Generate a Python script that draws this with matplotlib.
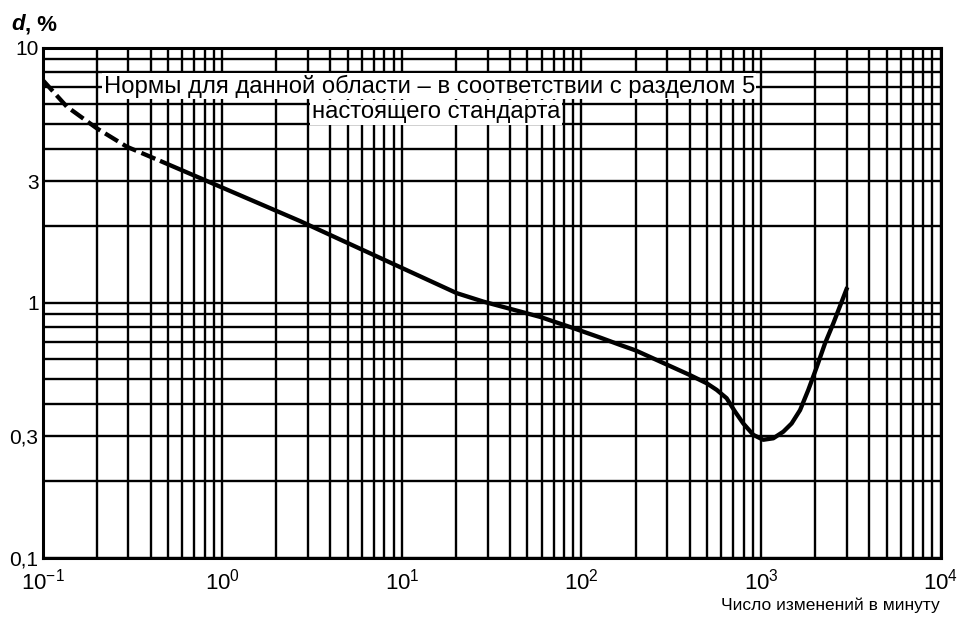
import numpy as np
import matplotlib.pyplot as plt
from matplotlib.ticker import LogLocator, NullFormatter, FixedLocator, FixedFormatter

plt.rcParams['font.family'] = ['Liberation Sans', 'DejaVu Sans']

# dashed part of the curve (outside the normalised range)
x_dash = [0.1, 0.136, 0.2, 0.294, 0.45]
y_dash = [7.47, 5.88, 4.83, 4.09, 3.6]

# solid part of the curve
x_solid = [0.45, 0.93, 2.71, 4.52, 9.75, 20.2, 28.4, 58.7, 90, 127, 164,
           200, 402, 498, 566, 643, 716, 796, 906, 1028, 1170, 1330, 1479,
           1648, 1832, 2042, 2270, 2525, 3020]
y_solid = [3.6, 2.89, 2.09, 1.77, 1.38, 1.09, 1.01, 0.88, 0.795, 0.73, 0.683,
           0.65, 0.52, 0.483, 0.455, 0.422, 0.374, 0.336, 0.303, 0.29, 0.294,
           0.312, 0.336, 0.379, 0.455, 0.56, 0.693, 0.83, 1.15]

y_ticks = [0.1, 0.3, 1, 3, 10]
y_tick_labels = ['0,1', '0,3', '1', '3', '10']

note_line1 = 'Нормы для данной области – в соответствии с разделом 5'
note_line2 = 'настоящего стандарта'

fig = plt.figure(figsize=(9.66, 6.18), dpi=100)
ax = fig.add_axes([0.0442, 0.0976, 0.9296, 0.8252])

ax.set_xscale('log')
ax.set_yscale('log')
ax.set_xlim(0.1, 1e4)
ax.set_ylim(0.1, 10)

# grid on every 1..9 of each decade
ax.xaxis.set_major_locator(LogLocator(base=10, numticks=10))
ax.xaxis.set_minor_locator(LogLocator(base=10, subs=np.arange(2, 10), numticks=20))
ax.xaxis.set_minor_formatter(NullFormatter())
ax.yaxis.set_major_locator(FixedLocator(y_ticks))
ax.yaxis.set_major_formatter(FixedFormatter(y_tick_labels))
ax.yaxis.set_minor_locator(LogLocator(base=10, subs=np.arange(1, 10), numticks=20))
ax.yaxis.set_minor_formatter(NullFormatter())

ax.grid(True, which='both', axis='both', color='black', lw=1.7)
ax.tick_params(which='both', length=0)
ax.tick_params(axis='x', pad=8, labelsize=16)
ax.tick_params(axis='y', pad=3, labelsize=15)
for s in ax.spines.values():
    s.set_linewidth(2.2)

ax.plot(x_dash, y_dash, color='black', lw=3.1, dashes=(3.5, 1.3), dash_capstyle='butt')
ax.plot(x_solid, y_solid, color='black', lw=3.1, solid_capstyle='butt',
        solid_joinstyle='round')

ax.text(14.2, 7.05, note_line1, fontsize=17.2, ha='center', va='center',
        bbox=dict(facecolor='white', edgecolor='none', pad=1), zorder=4)
ax.text(15.5, 5.58, note_line2, fontsize=17.2, ha='center', va='center',
        bbox=dict(facecolor='white', edgecolor='none', pad=1), zorder=4)

# axis titles
t = fig.text(0.0114, 0.951, 'd', fontsize=16, fontweight='bold', style='italic',
             va='baseline')
ax.annotate(', %', xy=(1, 0), xycoords=t, fontsize=16, fontweight='bold',
            va='bottom')
fig.text(0.973, 0.013, 'Число изменений в минуту', fontsize=12.5, ha='right',
         va='baseline')

fig.savefig('out.png', dpi=100)
